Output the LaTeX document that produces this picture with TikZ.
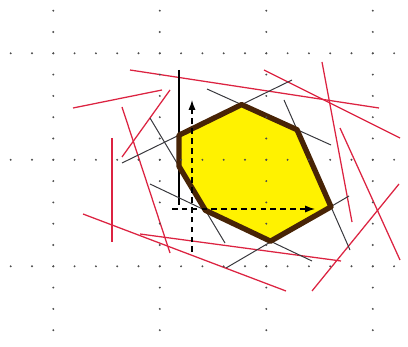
\documentclass[tikz,border=0pt]{standalone}
\usepackage{xcolor}
\usetikzlibrary{arrows.meta}
\definecolor{lineRed}{RGB}{220,35,65}
\definecolor{edgeBrown}{RGB}{72,36,6}
\definecolor{darkLine}{RGB}{55,55,60}

\begin{document}
\begin{tikzpicture}[
    x=0.025cm, y=-0.025cm,
    redundant/.style={
        draw=lineRed,
        line width=0.9pt
    },
    active/.style={
        draw=darkLine,
        line width=0.7pt
    },
    wall/.style={
        draw=black,
        line width=0.9pt
    },
    region/.style={
        fill=yellow,
        draw=edgeBrown,
        line width=3.8pt,
        line join=round
    },
    axis/.style={
        -{Latex[length=7pt,width=5pt]},
        dash pattern=on 4pt off 3pt,
        line width=0.8pt
    },
    griddot/.style={
        fill=black!70
    }
]
\useasboundingbox (0,0) rectangle (408,347);

% === REDUNDANT CONSTRAINTS ===
\foreach \ax/\ay/\bx/\by in {130/70/379/108, 264/70/400/138, 322/62/352/222,
                             340/128/400/260, 312/291/399/184, 73/108/162/90,
                             170/90/122/157, 122/107/170/253, 112/138/112/242,
                             83/214/286/291, 140/234/341/261}
    \draw[redundant] (\ax,\ay) -- (\bx,\by);

% === ACTIVE CONSTRAINTS ===
\draw[wall] (179,70) -- (179,205);
\foreach \ax/\ay/\bx/\by in {122/163/292/80, 207/89/331/145, 284/100/350/250,
                             226/268/349/196, 150/184/312/261, 150/118/225/243}
    \draw[active] (\ax,\ay) -- (\bx,\by);

% === FEASIBLE REGION ===
\coordinate (v1) at (179,135.2);
\coordinate (v2) at (241.6,104.6);
\coordinate (v3) at (297,129.7);
\coordinate (v4) at (331,206.8);
\coordinate (v5) at (270.5,241.2);
\coordinate (v6) at (205.4,210.3);
\coordinate (v7) at (179,166.3);
\draw[region] (v1) -- (v2) -- (v3) -- (v4) -- (v5) -- (v6) -- (v7) -- cycle;

% === DOTTED GRID ===
\foreach \gx in {53.3,159.8,266.3,372.8}
    \foreach \j in {-2,...,13}
        \fill[griddot] (\gx,{53.3+21.3*\j}) circle (0.75pt);
\foreach \gy in {53.3,159.8,266.3}
    \foreach \j in {-2,...,16}
        \fill[griddot] ({53.3+21.3*\j},\gy) circle (0.75pt);

% === AXES ===
\coordinate (ybot) at (192,252);
\coordinate (ytop) at (192,100);
\coordinate (xleft) at (172,209);
\coordinate (xright) at (315,209);
\draw[axis] (ybot) -- (ytop);
\draw[axis] (xleft) -- (xright);

\end{tikzpicture}
\end{document}
